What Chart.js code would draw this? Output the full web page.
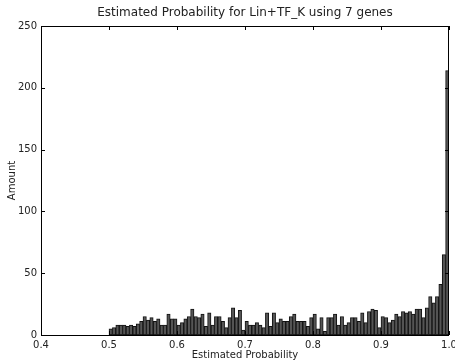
<!DOCTYPE html>
<html>
<head>
<meta charset="utf-8">
<script src="https://cdn.jsdelivr.net/npm/chart.js@4/dist/chart.umd.min.js"></script>
<style>
html,body{margin:0;padding:0;background:#fff;}
#wrap{width:455px;height:361px;}
</style>
</head>
<body>
<div id="wrap"><canvas id="c" width="455" height="361"></canvas></div>
<script>
const chartTitle = "Estimated Probability for Lin+TF_K using 7 genes";
const xTitle = "Estimated Probability";
const yTitle = "Amount";
const binStart = 0.5;
const binWidth = 0.005;
const counts = [
  5,6,8,8,8,7,8,7,9,11,15,12,14,11,13,
  8,8,17,13,13,8,10,13,15,21,15,14,17,7,18,8,15,
  15,11,6,14,22,14,20,4,11,8,8,10,8,6,18,7,18,
  10,13,11,11,15,17,11,11,11,7,14,17,5,14,3,14,14,
  17,8,15,8,10,14,14,11,18,10,19,21,20,6,15,14,10,
  12,17,15,19,18,19,17,21,21,14,22,31,26,31,41,65,214
];
const xTicks = [0.4, 0.5, 0.6, 0.7, 0.8, 0.9, 1.0];
const yTicks = [0, 50, 100, 150, 200, 250];

const points = counts.map((c, i) => ({ x: binStart + binWidth * (i + 0.5), y: c }));

const frameTicks = {
  id: 'frameTicks',
  afterDraw(chart) {
    const ctx = chart.ctx;
    const a = chart.chartArea;
    const xs = chart.scales.x, ys = chart.scales.y;
    ctx.save();
    ctx.strokeStyle = '#000';
    ctx.lineWidth = 1;
    ctx.strokeRect(Math.round(a.left) + 0.5, Math.round(a.top) + 0.5,
                   Math.round(a.right - a.left) - 1, Math.round(a.bottom - a.top));
    const L = 4;
    ctx.beginPath();
    xTicks.forEach(v => {
      const px = Math.round(xs.getPixelForValue(v)) + 0.5;
      ctx.moveTo(px, a.bottom); ctx.lineTo(px, a.bottom - L);
      ctx.moveTo(px, a.top); ctx.lineTo(px, a.top + L);
    });
    yTicks.forEach(v => {
      const py = Math.round(ys.getPixelForValue(v)) + 0.5;
      ctx.moveTo(a.left, py); ctx.lineTo(a.left + L, py);
      ctx.moveTo(a.right, py); ctx.lineTo(a.right - L, py);
    });
    ctx.stroke();
    // title centred over the plot area
    ctx.fillStyle = '#222';
    ctx.font = '12px "DejaVu Sans"';
    ctx.textAlign = 'center';
    ctx.textBaseline = 'middle';
    ctx.fillText(chartTitle, (a.left + a.right) / 2, 12.5);
    ctx.restore();
  }
};

new Chart(document.getElementById('c'), {
  type: 'bar',
  data: {
    datasets: [{
      data: points,
      backgroundColor: '#555555',
      borderColor: '#111',
      borderWidth: 1,
      barPercentage: 1,
      categoryPercentage: 1,
      borderSkipped: false
    }]
  },
  options: {
    responsive: false,
    animation: false,
    devicePixelRatio: 1,
    layout: { padding: { left: 0, right: 6, top: 26, bottom: 0 } },
    plugins: {
      legend: { display: false },
      tooltip: { enabled: false },
      title: { display: false }
    },
    scales: {
      x: {
        type: 'linear',
        min: 0.4, max: 1.0,
        offset: false,
        grid: { display: false, drawTicks: false, offset: false },
        border: { display: false },
        afterBuildTicks: s => { s.ticks = xTicks.map(v => ({ value: v })); },
        afterFit: s => { s.height = 26; s.paddingLeft = 0; s.paddingRight = 0; },
        ticks: {
          color: '#222',
          font: { family: 'DejaVu Sans', size: 10 },
          padding: 4,
          maxRotation: 0,
          autoSkip: false,
          callback: v => Number(v).toFixed(1)
        },
        title: {
          display: true, text: xTitle, color: '#222',
          font: { family: 'DejaVu Sans', size: 10 },
          padding: { top: 0, bottom: 0 }
        }
      },
      y: {
        min: 0, max: 250,
        grid: { display: false, drawTicks: false },
        border: { display: false },
        afterBuildTicks: s => { s.ticks = yTicks.map(v => ({ value: v })); },
        afterFit: s => { s.width = 41; s.paddingTop = 0; s.paddingBottom = 0; },
        ticks: {
          color: '#222',
          font: { family: 'DejaVu Sans', size: 10 },
          padding: 4
        },
        title: {
          display: true, text: yTitle, color: '#222',
          font: { family: 'DejaVu Sans', size: 10 },
          padding: { top: 6, bottom: 0 }
        }
      }
    }
  },
  plugins: [frameTicks]
});
</script>
</body>
</html>
